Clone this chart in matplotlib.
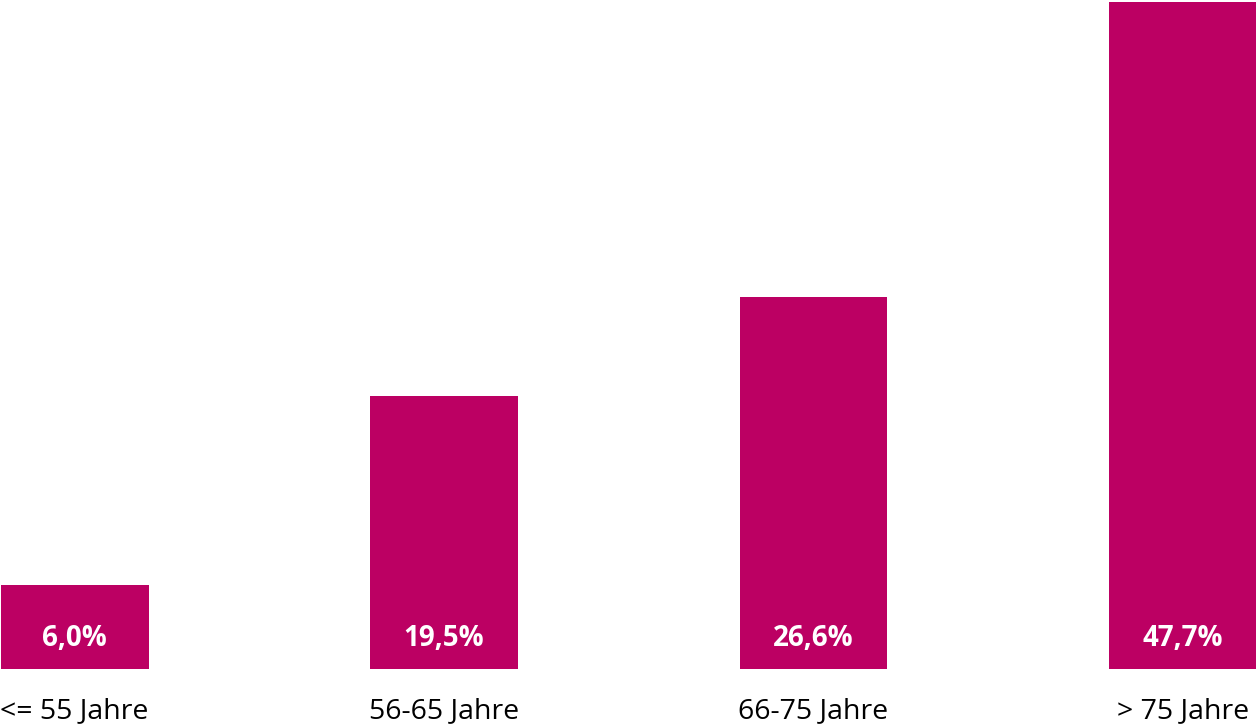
import matplotlib
matplotlib.use("Agg")
import matplotlib.pyplot as plt
import matplotlib.transforms as mtransforms

categories = ["<= 55 Jahre", "56-65 Jahre", "66-75 Jahre", "> 75 Jahre"]
values = [6.0, 19.5, 26.6, 47.7]
labels = ["6,0%", "19,5%", "26,6%", "47,7%"]

plt.rcParams['font.family'] = ['Open Sans', 'DejaVu Sans']

fig = plt.figure(figsize=(12.56, 7.24), dpi=100)
ax = fig.add_axes([0, 55 / 724, 1, 667 / 724])

x = range(len(categories))
ax.bar(x, values, width=0.4, color='#BC0063')

# value labels inside the bars, near the bottom
for i, lab in enumerate(labels):
    ax.text(i, 2.2, lab, ha='center', va='center', color='white',
            fontsize=20, fontweight='bold')

# category labels below the bars
trans = mtransforms.blended_transform_factory(ax.transData, fig.transFigure)
for i, cat in enumerate(categories):
    ax.text(i, 13 / 724, cat, ha='center', va='center', color='black',
            fontsize=20.5, transform=trans)

ax.set_xlim(-0.202, 3.198)
ax.set_ylim(0, 47.7)
ax.axis('off')

fig.savefig("out.png", dpi=100)
